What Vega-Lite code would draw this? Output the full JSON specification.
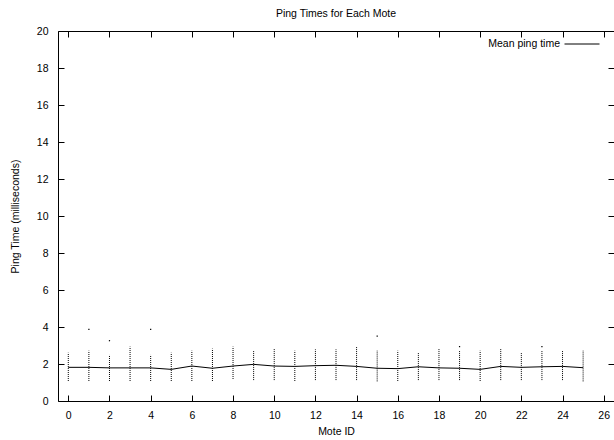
{
  "$schema": "https://vega.github.io/schema/vega-lite/v6.json",
  "autosize": "none",
  "width": 556,
  "height": 370,
  "padding": {"left": 58, "top": 31, "right": 0, "bottom": 39},
  "background": "white",
  "config": {
    "font": "Liberation Sans",
    "view": {"stroke": "black", "strokeWidth": 1},
    "axis": {"grid": false, "domain": false, "tickColor": "black", "labelColor": "black", "titleColor": "black", "labelFontSize": 10.5, "titleFontSize": 10.5, "titleFontWeight": "normal", "labelFont": "Liberation Sans", "titleFont": "Liberation Sans", "tickSize": -6},
    "title": {"fontSize": 10.5, "fontWeight": "normal", "font": "Liberation Sans", "color": "black"}
  },
  "title": {"text": "Ping Times for Each Mote", "offset": 7},
  "datasets": {
    "ranges": [
      {"mote": 0, "lo": 1.08, "hi": 2.61},
      {"mote": 1, "lo": 1.08, "hi": 2.72},
      {"mote": 2, "lo": 1.08, "hi": 2.49},
      {"mote": 3, "lo": 1.08, "hi": 2.94},
      {"mote": 4, "lo": 1.08, "hi": 2.49},
      {"mote": 5, "lo": 1.08, "hi": 2.61},
      {"mote": 6, "lo": 1.08, "hi": 2.72},
      {"mote": 7, "lo": 1.08, "hi": 2.83},
      {"mote": 8, "lo": 1.19, "hi": 2.94},
      {"mote": 9, "lo": 1.13, "hi": 2.72},
      {"mote": 10, "lo": 1.13, "hi": 2.83},
      {"mote": 11, "lo": 1.08, "hi": 2.72},
      {"mote": 12, "lo": 1.13, "hi": 2.79},
      {"mote": 13, "lo": 1.13, "hi": 2.79},
      {"mote": 14, "lo": 1.13, "hi": 2.94},
      {"mote": 15, "lo": 1.06, "hi": 2.72},
      {"mote": 16, "lo": 1.08, "hi": 2.72},
      {"mote": 17, "lo": 1.13, "hi": 2.61},
      {"mote": 18, "lo": 1.13, "hi": 2.83},
      {"mote": 19, "lo": 1.13, "hi": 2.72},
      {"mote": 20, "lo": 1.08, "hi": 2.72},
      {"mote": 21, "lo": 1.13, "hi": 2.83},
      {"mote": 22, "lo": 1.13, "hi": 2.61},
      {"mote": 23, "lo": 1.13, "hi": 2.72},
      {"mote": 24, "lo": 1.13, "hi": 2.72},
      {"mote": 25, "lo": 1.06, "hi": 2.72}
    ],
    "outliers": [
      {"mote": 1, "ping": 3.87},
      {"mote": 2, "ping": 3.26},
      {"mote": 4, "ping": 3.87},
      {"mote": 15, "ping": 3.51},
      {"mote": 19, "ping": 2.94},
      {"mote": 23, "ping": 2.94}
    ],
    "means": [
      {"mote": 0, "mean": 1.82},
      {"mote": 1, "mean": 1.82},
      {"mote": 2, "mean": 1.79},
      {"mote": 3, "mean": 1.79},
      {"mote": 4, "mean": 1.79},
      {"mote": 5, "mean": 1.71},
      {"mote": 6, "mean": 1.89},
      {"mote": 7, "mean": 1.77},
      {"mote": 8, "mean": 1.89},
      {"mote": 9, "mean": 1.98},
      {"mote": 10, "mean": 1.89},
      {"mote": 11, "mean": 1.87},
      {"mote": 12, "mean": 1.91},
      {"mote": 13, "mean": 1.93},
      {"mote": 14, "mean": 1.87},
      {"mote": 15, "mean": 1.77},
      {"mote": 16, "mean": 1.75},
      {"mote": 17, "mean": 1.85},
      {"mote": 18, "mean": 1.79},
      {"mote": 19, "mean": 1.77},
      {"mote": 20, "mean": 1.71},
      {"mote": 21, "mean": 1.87},
      {"mote": 22, "mean": 1.82},
      {"mote": 23, "mean": 1.85},
      {"mote": 24, "mean": 1.87},
      {"mote": 25, "mean": 1.80}
    ]
  },
  "layer": [
    {
      "data": {"name": "ranges"},
      "mark": {"type": "rule", "color": "black", "strokeWidth": 1, "strokeDash": [1, 1]},
      "encoding": {
        "x": {"field": "mote", "type": "quantitative", "scale": {"domain": [-0.5, 26.5], "nice": false, "zero": false},
              "axis": {"orient": "bottom", "title": "Mote ID", "values": [0,2,4,6,8,10,12,14,16,18,20,22,24,26], "labelPadding": 15, "titlePadding": 6}},
        "y": {"field": "lo", "type": "quantitative", "scale": {"domain": [0, 20], "nice": false},
              "axis": {"orient": "left", "title": "Ping Time (milliseconds)", "values": [0,2,4,6,8,10,12,14,16,18,20], "labelPadding": 16, "titlePadding": 16}},
        "y2": {"field": "hi"}
      }
    },
    {
      "data": {"name": "outliers"},
      "mark": {"type": "point", "shape": "square", "filled": true, "color": "black", "size": 1.5, "opacity": 1},
      "encoding": {
        "x": {"field": "mote", "type": "quantitative", "scale": {"domain": [-0.5, 26.5], "nice": false, "zero": false}, "axis": null},
        "y": {"field": "ping", "type": "quantitative", "scale": {"domain": [0, 20], "nice": false}, "axis": null}
      }
    },
    {
      "data": {"name": "means"},
      "mark": {"type": "line", "strokeWidth": 1},
      "encoding": {
        "x": {"field": "mote", "type": "quantitative", "scale": {"domain": [-0.5, 26.5], "nice": false, "zero": false},
              "axis": {"orient": "top", "title": null, "labels": false, "values": [0,2,4,6,8,10,12,14,16,18,20,22,24,26]}},
        "y": {"field": "mean", "type": "quantitative", "scale": {"domain": [0, 20], "nice": false},
              "axis": {"orient": "right", "title": null, "labels": false, "values": [0,2,4,6,8,10,12,14,16,18,20]}},
        "color": {"datum": "Mean ping time", "type": "nominal", "scale": {"range": ["black"]},
                  "legend": {"title": null, "orient": "none", "legendX": 506, "legendY": -5, "symbolType": "stroke", "symbolSize": 1225, "symbolStrokeWidth": 1, "labelAlign": "right", "labelOffset": -40, "labelFontSize": 10.5, "labelColor": "black", "labelFont": "Liberation Sans", "padding": 0}}
      }
    }
  ],
  "resolve": {"axis": {"x": "independent", "y": "independent"}}
}
